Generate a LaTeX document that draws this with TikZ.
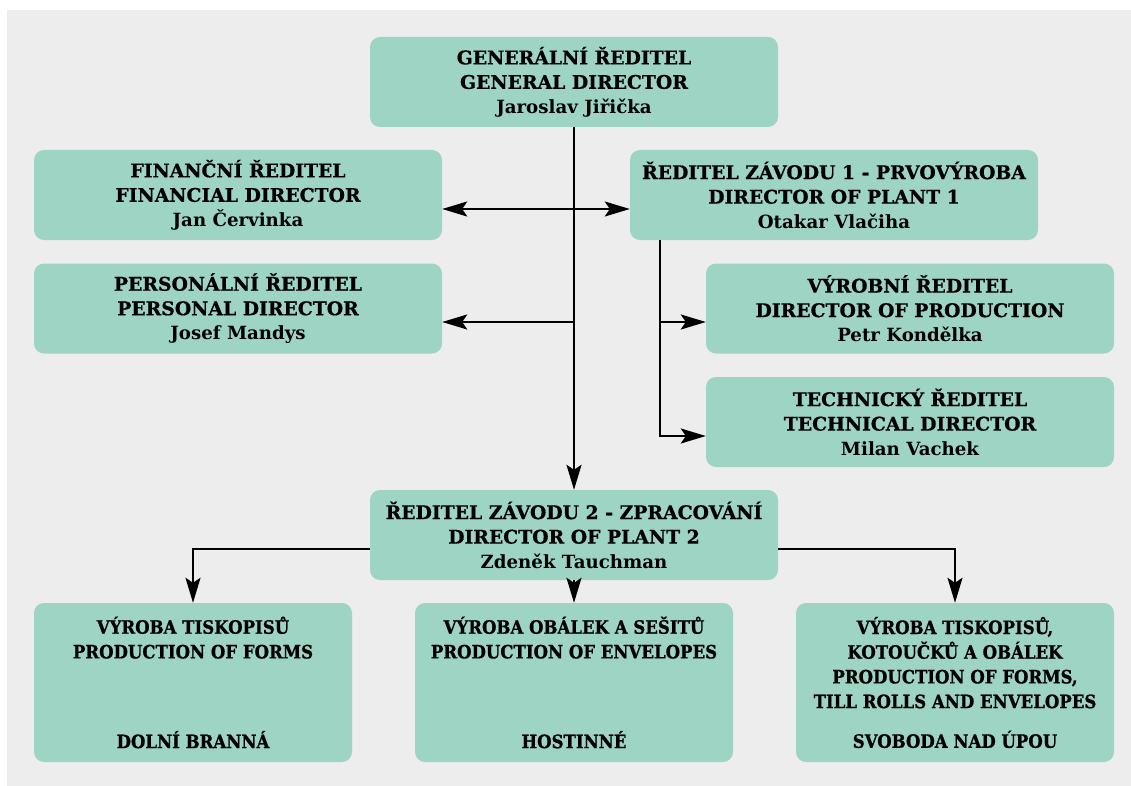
\documentclass[tikz,border=0pt]{standalone}
\usepackage{fontspec}
\setmainfont{DejaVu Serif}[BoldFeatures={FakeBold=0.7}]
\newfontfamily\namefont{DejaVu Serif}
\newfontfamily\condfont{DejaVu Serif Condensed}[BoldFeatures={FakeBold=0.9}]
\usetikzlibrary{arrows.meta}
\definecolor{boxfill}{HTML}{9ED4C4}
\definecolor{bggray}{HTML}{EDEDED}
\newcommand{\nm}[1]{{\namefont\bfseries\fontsize{18.2}{24.5}\selectfont #1}}
\begin{document}
\begin{tikzpicture}[x=1pt,y=-1pt,
  box/.style={draw=none, fill=boxfill, rounded corners=10pt, minimum width=408pt,
    minimum height=90pt, align=center, inner sep=0pt,
    font=\fontsize{18.8}{24.5}\selectfont\bfseries},
  lowbox/.style={box, minimum width=318pt, minimum height=159pt,
    font=\condfont\fontsize{18.4}{24.7}\selectfont\bfseries},
  conn/.style={line width=2.2pt},
  arr/.style={conn,-{Stealth[length=25pt,width=15pt,inset=5pt]}},
  dblarr/.style={conn,{Stealth[length=25pt,width=15pt,inset=5pt]}-{Stealth[length=25pt,width=15pt,inset=5pt]}}]
\useasboundingbox (0,0) rectangle (1131,786);
\fill[bggray] (7,10) rectangle (1131,786);

\node[box] (gen)  at (574,82)    {GENERÁLNÍ ŘEDITEL\\GENERAL DIRECTOR\\\nm{Jaroslav Jiřička}};
\node[box] (fin)  at (238,195)   {FINANČNÍ ŘEDITEL\\FINANCIAL DIRECTOR\\\nm{Jan Červinka}};
\node[box] (p1)   at (834,195)   {ŘEDITEL ZÁVODU 1 - PRVOVÝROBA\\DIRECTOR OF PLANT 1\\\nm{Otakar Vlačiha}};
\node[box] (pers) at (238,308.5) {PERSONÁLNÍ ŘEDITEL\\PERSONAL DIRECTOR\\\nm{Josef Mandys}};
\node[box] (prod) at (910,308.5) {VÝROBNÍ ŘEDITEL\\DIRECTOR OF PRODUCTION\\\nm{Petr Kondělka}};
\node[box] (tech) at (910,422)   {TECHNICKÝ ŘEDITEL\\TECHNICAL DIRECTOR\\\nm{Milan Vachek}};
\node[box] (p2)   at (574,535)   {ŘEDITEL ZÁVODU 2 - ZPRACOVÁNÍ\\DIRECTOR OF PLANT 2\\\nm{Zdeněk Tauchman}};

\node[lowbox] (b1) at (193,682.5) {VÝROBA TISKOPISŮ\\PRODUCTION OF FORMS\\[65pt]DOLNÍ BRANNÁ};
\node[lowbox] (b2) at (574,682.5) {VÝROBA OBÁLEK A SEŠITŮ\\PRODUCTION OF ENVELOPES\\[65pt]HOSTINNÉ};
\node[lowbox] (b3) at (955,682.5) {VÝROBA TISKOPISŮ,\\KOTOUČKŮ A OBÁLEK\\PRODUCTION OF FORMS,\\TILL ROLLS AND ENVELOPES\\[15pt]SVOBODA NAD ÚPOU};

\draw[arr] (gen.south) -- (p2.north);
\draw[dblarr] ([yshift=-14pt]fin.east) -- ([yshift=-14pt]p1.west);
\draw[arr] ([yshift=-13.5pt]pers.east -| gen.south) -- ([yshift=-13.5pt]pers.east);
\draw[arr] ([xshift=-174pt]p1.south) |- ([yshift=-13.5pt]prod.west);
\draw[arr] ([xshift=-174pt]p1.south) |- ([yshift=-14pt]tech.west);
\draw[arr] ([yshift=-14pt]p2.west) -| (b1.north);
\draw[arr] (p2.south) -- (b2.north);
\draw[arr] ([yshift=-14pt]p2.east) -| (b3.north);
\end{tikzpicture}
\end{document}
